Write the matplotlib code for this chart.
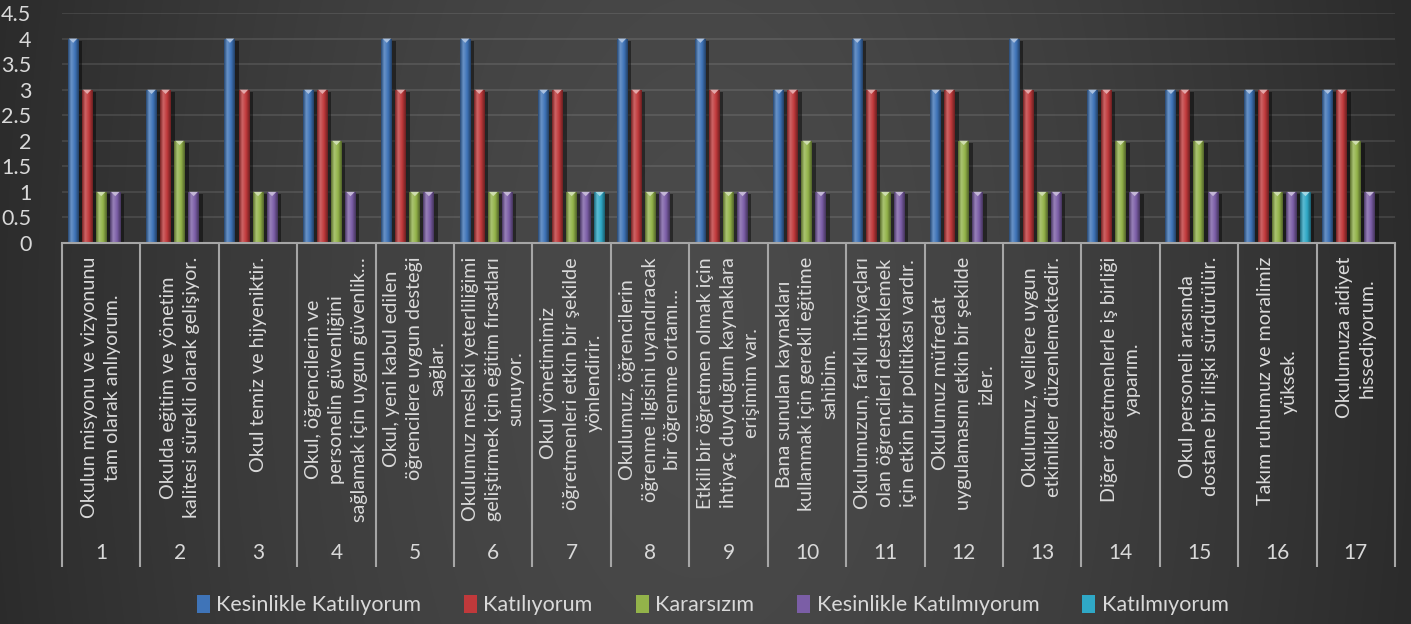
import numpy as np
import matplotlib
matplotlib.use('Agg')
import matplotlib.pyplot as plt
from matplotlib.transforms import blended_transform_factory
from matplotlib.patches import Polygon, Patch
from matplotlib import patheffects as pe
from matplotlib.colors import LinearSegmentedColormap, to_rgb

# ---------------- data ----------------
numbers = ['1', '2', '3', '4', '5', '6', '7', '8', '9', '10', '11', '12', '13', '14', '15', '16', '17']
statements = [
    "Okulun misyonu ve vizyonunu\ntam olarak anlıyorum.",
    "Okulda eğitim ve yönetim\nkalitesi sürekli olarak gelişiyor.",
    "Okul temiz ve hijyeniktir.",
    "Okul, öğrencilerin ve\npersonelin güvenliğini\nsağlamak için uygun güvenlik…",
    "Okul, yeni kabul edilen\nöğrencilere uygun desteği\nsağlar.",
    "Okulumuz mesleki yeterliliğimi\ngeliştirmek için eğitim fırsatları\nsunuyor.",
    "Okul yönetimimiz\nöğretmenleri etkin bir şekilde\nyönlendirir.",
    "Okulumuz, öğrencilerin\nöğrenme ilgisini uyandıracak\nbir öğrenme ortamı…",
    "Etkili bir öğretmen olmak için\nihtiyaç duyduğum kaynaklara\nerişimim var.",
    "Bana sunulan kaynakları\nkullanmak için gerekli eğitime\nsahibim.",
    "Okulumuzun, farklı ihtiyaçları\nolan öğrencileri desteklemek\niçin etkin bir politikası vardır.",
    "Okulumuz müfredat\nuygulamasını etkin bir şekilde\nizler.",
    "Okulumuz, velilere uygun\netkinlikler düzenlemektedir.",
    "Diğer öğretmenlerle iş birliği\nyaparım.",
    "Okul personeli arasında\ndostane bir ilişki sürdürülür.",
    "Takım ruhumuz ve moralimiz\nyüksek.",
    "Okulumuza aidiyet\nhissediyorum.",
]
series_names = ['Kesinlikle Katılıyorum', 'Katılıyorum', 'Kararsızım',
                'Kesinlikle Katılmıyorum', 'Katılmıyorum']
kesinlikle_katiliyorum = [4, 3, 4, 3, 4, 4, 3, 4, 4, 3, 4, 3, 4, 3, 3, 3, 3]
katiliyorum = [3, 3, 3, 3, 3, 3, 3, 3, 3, 3, 3, 3, 3, 3, 3, 3, 3]
kararsizim = [1, 2, 1, 2, 1, 1, 1, 1, 1, 2, 1, 2, 1, 2, 2, 1, 2]
kesinlikle_katilmiyorum = [1, 1, 1, 1, 1, 1, 1, 1, 1, 1, 1, 1, 1, 1, 1, 1, 1]
katilmiyorum = [0, 0, 0, 0, 0, 0, 1, 0, 0, 0, 0, 0, 0, 0, 0, 1, 0]
yticks = [0, 0.5, 1, 1.5, 2, 2.5, 3, 3.5, 4, 4.5]
ytick_labels = ['0', '0.5', '1', '1.5', '2', '2.5', '3', '3.5', '4', '4.5']

series_values = [kesinlikle_katiliyorum, katiliyorum, kararsizim,
                 kesinlikle_katilmiyorum, katilmiyorum]
colors = ['#3f74b8', '#c0393b', '#93b34a', '#7b5ea6', '#2fa8c6']

# ---------------- style ----------------
plt.rcParams['font.family'] = ['Lato', 'DejaVu Sans']
TXT = '#d9d9d9'
FS_CAT = 14.2
FS_NUM = 15
FS_Y = 15.5
FS_LEG = 15.5

W, H = 1411, 624
fig = plt.figure(figsize=(W / 100, H / 100), dpi=100)

# background gradient (lighter in the middle, darker at the sides)
bg = fig.add_axes([0, 0, 1, 1], zorder=-10)
yy, xx = np.mgrid[0:H, 0:W]
d = np.sqrt(((xx - 700) / 720.0) ** 2 + ((yy - 320) / 1400.0) ** 2)
d = np.clip(d, 0, 1)
c_center = np.array([0.292, 0.292, 0.292])
c_edge = np.array([0.170, 0.170, 0.170])
t = d[..., None] ** 1.5
img = c_center[None, None, :] * (1 - t) + c_edge[None, None, :] * t
bg.imshow(img, extent=[0, 1, 0, 1], aspect='auto', interpolation='bilinear')
bg.axis('off')

ax_left, ax_right = 62 / W, 1395 / W
ax_bottom, ax_top = 1 - 243 / H, 1 - 13 / H
ax = fig.add_axes([ax_left, ax_bottom, ax_right - ax_left, ax_top - ax_bottom])
ax.set_facecolor('none')

n = len(numbers)
x = np.arange(n)
slot = 0.179
bw = 0.14


def make_cmap(c):
    r = np.array(to_rgb(c))
    dark = r * 0.62
    light = np.clip(r + (1 - r) * 0.22, 0, 1)
    return LinearSegmentedColormap.from_list('g', [(0, dark), (0.3, light), (0.65, r), (1, dark * 0.9)])


grad = np.linspace(0, 1, 64)[None, :]
for i, (vals, col) in enumerate(zip(series_values, colors)):
    bars = ax.bar(x + (i - 2) * slot, vals, width=bw, color=col, edgecolor='none', zorder=3)
    cmap = make_cmap(col)
    r = np.array(to_rgb(col))
    tri_col = np.clip(r + (1 - r) * 0.55, 0, 1)
    for b in bars:
        h = b.get_height()
        if h <= 0:
            b.set_visible(False)
            continue
        b.set_path_effects([pe.SimplePatchShadow(offset=(2.5, -1.5), shadow_rgbFace='black', alpha=0.45), pe.Normal()])
        x0, w = b.get_x(), b.get_width()
        im = ax.imshow(grad, extent=[x0, x0 + w, 0, h], aspect='auto', cmap=cmap, zorder=3.5,
                       interpolation='bilinear')
        im.set_clip_path(b)
        tri = Polygon([(x0 + w * 0.12, h), (x0 + w * 0.88, h), (x0 + w * 0.5, h - 0.085)],
                      closed=True, facecolor=tri_col, edgecolor='none', zorder=4)
        ax.add_patch(tri)

ax.set_xlim(-0.5, n - 0.5)
ax.set_ylim(0, 4.5)
ax.set_yticks(yticks)
ax.set_yticklabels(ytick_labels)
ax.set_xticks([])
ax.yaxis.grid(True, color='white', alpha=0.11, lw=1.3)
ax.set_axisbelow(True)
for s in ['top', 'right', 'left']:
    ax.spines[s].set_visible(False)
ax.spines['bottom'].set_color('#a6a6a6')
ax.spines['bottom'].set_linewidth(1.5)
ax.spines['bottom'].set_zorder(5)
ax.tick_params(axis='y', length=0, pad=22, labelsize=FS_Y, labelcolor=TXT)

# multi-level category axis
trans = blended_transform_factory(ax.transData, fig.transFigure)
for i in range(n):
    ax.text(x[i], 1 - 257 / H, statements[i], rotation=90, ha='center', va='top',
            multialignment='center', transform=trans, fontsize=FS_CAT, color=TXT,
            linespacing=1.42, clip_on=False)
    ax.text(x[i], 1 - 553 / H, numbers[i], ha='center', va='center', transform=trans,
            fontsize=FS_NUM, color=TXT, clip_on=False)
for i in range(n + 1):
    xb = i - 0.5
    ax.plot([xb, xb], [ax_bottom, 1 - 567 / H], transform=trans, color='#a6a6a6', lw=1.5,
            clip_on=False, solid_capstyle='butt')

# legend
handles = [Patch(facecolor=c, edgecolor='none') for c in colors]
fig.legend(handles, series_names, loc='center', bbox_to_anchor=(0.505, 1 - 605 / H), ncol=5,
           frameon=False, fontsize=FS_LEG, labelcolor=TXT, handlelength=0.6, handleheight=0.9,
           handletextpad=0.3, columnspacing=2.0)

fig.savefig('out.png', dpi=100)
